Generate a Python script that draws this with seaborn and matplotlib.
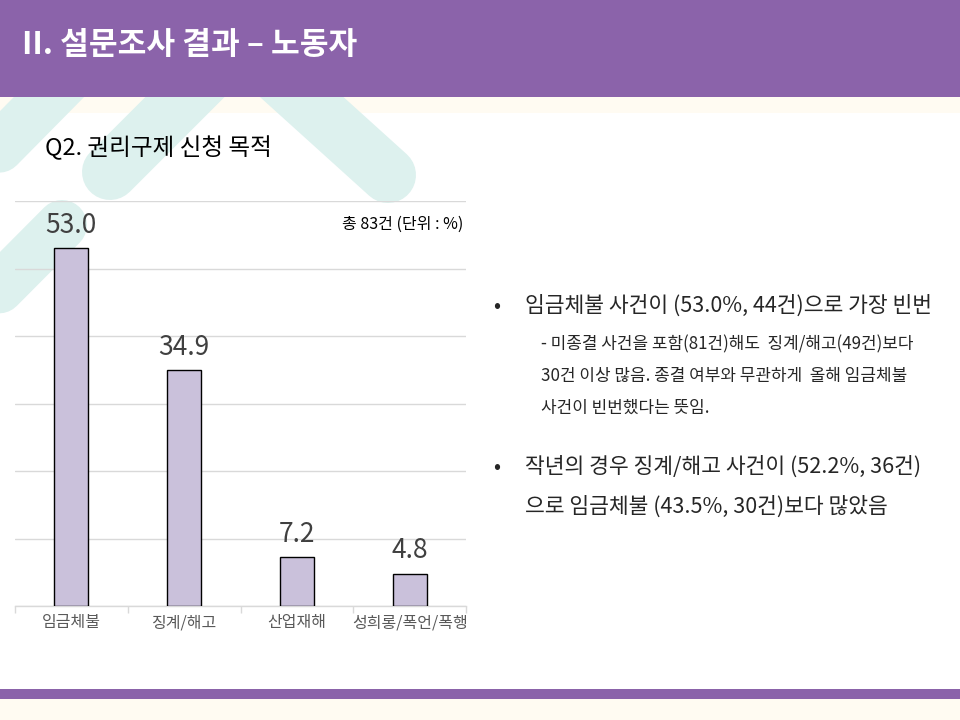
import matplotlib
matplotlib.use("Agg")
import matplotlib.pyplot as plt
from matplotlib.lines import Line2D
from matplotlib.patches import Rectangle
import seaborn as sns
import pandas as pd

# ---- data ----
categories = ["임금체불", "징계/해고", "산업재해", "성희롱/폭언/폭행"]
values = [53.0, 34.9, 7.2, 4.8]
y_ticks = [0, 10, 20, 30, 40, 50, 60]

header_title = "II. 설문조사 결과 – 노동자"
chart_title = "Q2. 권리구제 신청 목적"
unit_note = "총 83건 (단위 : %)"
bullet1 = "임금체불 사건이 (53.0%, 44건)으로 가장 빈번"
bullet1_sub = ["- 미종결 사건을 포함(81건)해도  징계/해고(49건)보다",
               "30건 이상 많음. 종결 여부와 무관하게  올해 임금체불",
               "사건이 빈번했다는 뜻임."]
bullet2 = ["작년의 경우 징계/해고 사건이 (52.2%, 36건)",
           "으로 임금체불 (43.5%, 30건)보다 많았음"]

sns.set_theme(style="white")
FONT = ["Noto Sans CJK KR", "DejaVu Sans"]
plt.rcParams["font.family"] = FONT

W, H = 960, 720
fig = plt.figure(figsize=(9.6, 7.2), dpi=100, facecolor="white")

def fx(x):
    return x / W

def fy(y):
    return 1 - y / H

PURPLE = "#8B63AA"
CREAM = "#FFFBF2"
TEAL = "#DDF1EE"

# cream strips
fig.add_artist(Rectangle((0, fy(113)), 1, fy(97) - fy(113), transform=fig.transFigure,
                         facecolor=CREAM, edgecolor="none", zorder=-3))
fig.add_artist(Rectangle((0, 0), 1, fy(699), transform=fig.transFigure,
                         facecolor=CREAM, edgecolor="none", zorder=-3))

# decorative teal bands (pixel centerlines)
bands = [((125, 20), (-100, 248), 50),
         ((265, 17), (110, 172), 56),
         ((222, 25), (388, 175), 56),
         ((62, 225), (-100, 388), 50)]
for (x0, y0), (x1, y1), w in bands:
    fig.add_artist(Line2D([fx(x0), fx(x1)], [fy(y0), fy(y1)], transform=fig.transFigure,
                          color=TEAL, linewidth=w * 0.72, solid_capstyle="round", zorder=-2))

# header band and bottom line
fig.add_artist(Rectangle((0, fy(97)), 1, 1 - fy(97), transform=fig.transFigure,
                         facecolor=PURPLE, edgecolor="none", zorder=-1))
fig.add_artist(Rectangle((0, fy(699)), 1, fy(689) - fy(699), transform=fig.transFigure,
                         facecolor=PURPLE, edgecolor="none", zorder=-1))

# ---- chart ----
ax = fig.add_axes([fx(15), fy(606), fx(466) - fx(15), fy(201) - fy(606)])
ax.set_facecolor("none")
df = pd.DataFrame({"cat": categories, "val": values})
sns.barplot(data=df, x="cat", y="val", color="#CAC1DB", saturation=1, width=0.3,
            edgecolor="black", linewidth=1, ax=ax, zorder=3)
ax.set_ylim(0, 60)
ax.set_xlim(-0.5, len(categories) - 0.5)
ax.set_yticks(y_ticks)
ax.set_yticklabels([])
ax.tick_params(axis="y", length=0)
ax.grid(axis="y", color="#D9D9D9", linewidth=1)
ax.set_axisbelow(True)
for s in ["left", "right", "top"]:
    ax.spines[s].set_visible(False)
ax.spines["bottom"].set_color("#D9D9D9")
ax.spines["bottom"].set_linewidth(1)
ax.set_xlabel("")
ax.set_ylabel("")
ax.set_xticks(range(len(categories)))
ax.set_xticklabels(categories, fontsize=11.5, color="#595959")
ax.set_xticks([i - 0.5 for i in range(len(categories) + 1)], minor=True)
ax.tick_params(axis="x", which="major", length=0, pad=6)
ax.tick_params(axis="x", which="minor", length=5, color="#D9D9D9", width=1, bottom=True)
ax.bar_label(ax.containers[0], fmt="%.1f", padding=7, fontsize=19, color="#404040")

# ---- texts ----
fig.text(fx(22), fy(45), header_title, color="white", fontsize=22.5, fontweight="bold",
         va="center", ha="left")
fig.text(fx(45), fy(148), chart_title, color="black", fontsize=17, va="center", ha="left")
fig.text(fx(463), fy(224), unit_note, color="black", fontsize=11.5, va="center", ha="right")

fig.text(fx(497), fy(306), "•", fontsize=15, va="center", ha="center")
fig.text(fx(525), fy(306), bullet1, fontsize=15.5, va="center", ha="left")
for i, line in enumerate(bullet1_sub):
    fig.text(fx(541), fy(344 + 32 * i), line, fontsize=12.2, va="center", ha="left")

fig.text(fx(497), fy(467), "•", fontsize=15, va="center", ha="center")
for i, line in enumerate(bullet2):
    fig.text(fx(525), fy(467 + 40 * i), line, fontsize=15.5, va="center", ha="left")

fig.savefig("out.png", dpi=100, facecolor="white")
